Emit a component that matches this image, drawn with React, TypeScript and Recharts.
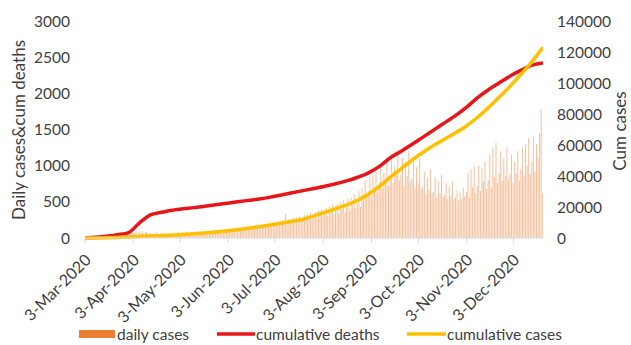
import React from 'react';
import { ComposedChart, Bar, Line, XAxis, YAxis, Legend } from 'recharts';

// Daily new cases, one value per day from 3-Mar-2020 (day 0) to 22-Dec-2020 (day 294)
const dailyCases = [
  0, 2, 1, 5, 3, 8, 6,
  10, 7, 15, 12, 20, 14, 18,
  25, 30, 22, 35, 40, 28, 38,
  45, 52, 40, 60, 55, 48, 65,
  70, 58, 80, 66, 75, 90, 62,
  85, 70, 95, 60, 78, 88, 55,
  72, 50, 65, 58, 80, 45, 60,
  55, 62, 48, 70, 52, 66, 58,
  60, 72, 55, 68, 78, 64, 70,
  75, 68, 82, 90, 70, 85, 78,
  80, 92, 76, 88, 95, 72, 90,
  85, 98, 80, 102, 90, 110, 95,
  100, 115, 92, 120, 105, 98, 125,
  110, 128, 105, 135, 118, 140, 122,
  130, 145, 120, 150, 138, 125, 155,
  140, 160, 132, 168, 150, 175, 145,
  158, 180, 150, 190, 165, 200, 172,
  185, 210, 170, 225, 195, 240, 205,
  215, 250, 190, 330, 230, 260, 210,
  240, 275, 220, 290, 255, 300, 235,
  265, 310, 245, 330, 280, 350, 270,
  300, 360, 280, 380, 320, 400, 310,
  340, 420, 300, 440, 360, 460, 330,
  380, 470, 340, 500, 400, 520, 360,
  420, 540, 380, 560, 450, 600, 410,
  480, 650, 430, 700, 520, 800, 560,
  650, 850, 560, 900, 700, 950, 620,
  760, 980, 680, 900, 820, 1050, 720,
  850, 1080, 760, 1000, 900, 1150, 800,
  880, 1100, 720, 1050, 850, 1200, 780,
  820, 1080, 700, 980, 760, 1100, 680,
  700, 920, 600, 840, 660, 940, 620,
  640, 840, 560, 780, 620, 870, 560,
  600, 760, 540, 700, 580, 780, 540,
  560, 660, 520, 640, 540, 700, 580,
  640, 900, 560, 950, 700, 980, 620,
  720, 1000, 650, 960, 780, 1050, 680,
  800, 1150, 700, 1250, 850, 1320, 760,
  900, 1200, 780, 1100, 860, 1250, 820,
  880, 1150, 760, 1050, 900, 1200, 800,
  950, 1250, 850, 1300, 1000, 1380, 880,
  1050, 1400, 920, 1300, 1100, 1450, 1780,
  620,
];

// Weekly readings of the cumulative series (day index from 3-Mar-2020)
const lineDays = [
  0, 7, 14, 21, 28, 35, 42, 49, 56, 63, 70, 77, 84, 91, 98, 105, 112, 119, 126, 133, 140, 147,
  154, 161, 168, 175, 182, 189, 196, 203, 210, 217, 224, 231, 238, 245, 252, 259, 266, 273, 280, 287, 294,
];
const cumulativeDeaths = [
  0, 10, 25, 45, 75, 210, 320, 355, 385, 405, 420, 440, 460, 480, 500, 520, 540, 565, 595, 625, 655, 685,
  715, 750, 790, 840, 900, 990, 1110, 1200, 1295, 1395, 1495, 1595, 1695, 1810, 1940, 2050, 2145, 2240, 2320, 2390, 2420,
];
const cumulativeCases = [
  0, 50, 200, 400, 700, 1000, 1300, 1550, 1850, 2250, 2750, 3250, 3850, 4550, 5350, 6250, 7250, 8350, 9550, 10800, 12100, 14300,
  16600, 18900, 21300, 24300, 28200, 33300, 39300, 44800, 50300, 55300, 59800, 63900, 67900, 72400, 77900, 84100, 91000, 98000, 105800, 113800, 123000,
];

const monthTickDays = [0, 31, 61, 92, 122, 153, 184, 214, 245, 275];
const monthTickLabels = [
  '3-Mar-2020', '3-Apr-2020', '3-May-2020', '3-Jun-2020', '3-Jul-2020',
  '3-Aug-2020', '3-Sep-2020', '3-Oct-2020', '3-Nov-2020', '3-Dec-2020',
];
const leftTicks = [0, 500, 1000, 1500, 2000, 2500, 3000];
const rightTicks = [0, 20000, 40000, 60000, 80000, 100000, 120000, 140000];

const seriesNames = {
  daily: 'daily cases',
  deaths: 'cumulative deaths',
  cases: 'cumulative cases',
};
const leftTitle = 'Daily cases&cum deaths';
const rightTitle = 'Cum cases';

const FONT = 'Lato, "Open Sans", sans-serif';
const TEXT = '#404040';
const BAR_FILL = '#f5bf9a';
const BAR_SWATCH = '#ED7D31';
const RED = '#e8161b';
const GOLD = '#FFC000';
const AXIS = '#d9d9d9';

const barData = dailyCases.map((v, day) => ({ day, daily: v }));
const deathsData = lineDays.map((day, i) => ({ day, deaths: cumulativeDeaths[i] }));
const casesData = lineDays.map((day, i) => ({ day, cases: cumulativeCases[i] }));

const DateTick = (props: any) => {
  const { x, payload } = props;
  const idx = monthTickDays.indexOf(payload.value);
  const ax = x + 7;
  const ay = 261;
  return (
    <text
      x={ax}
      y={ay}
      transform={`rotate(-45 ${ax} ${ay})`}
      textAnchor="end"
      fontSize={16}
      fontFamily={FONT}
      fill={TEXT}
    >
      {monthTickLabels[idx]}
    </text>
  );
};

const LegendRow = () => (
  <svg width={631} height={22} style={{ display: 'block' }}>
    <rect x={79} y={7} width={36} height={8} fill={BAR_SWATCH} />
    <text x={117} y={11} dominantBaseline="central" fontSize={15.5} fontFamily={FONT} fill={TEXT}>
      {seriesNames.daily}
    </text>
    <line x1={217} x2={255} y1={11} y2={11} stroke={RED} strokeWidth={3.5} />
    <text x={256} y={11} dominantBaseline="central" fontSize={15.5} fontFamily={FONT} fill={TEXT}>
      {seriesNames.deaths}
    </text>
    <line x1={407} x2={446} y1={11} y2={11} stroke={GOLD} strokeWidth={3.5} />
    <text x={447} y={11} dominantBaseline="central" fontSize={15.5} fontFamily={FONT} fill={TEXT}>
      {seriesNames.cases}
    </text>
  </svg>
);

const LeftTitle = () => (
  <text
    x={25}
    y={130}
    transform="rotate(-90 25 130)"
    textAnchor="middle"
    fontSize={17}
    fontFamily={FONT}
    fill={TEXT}
  >
    {leftTitle}
  </text>
);

const RightTitle = () => (
  <text
    x={626}
    y={131}
    transform="rotate(-90 626 131)"
    textAnchor="middle"
    fontSize={17}
    fontFamily={FONT}
    fill={TEXT}
  >
    {rightTitle}
  </text>
);

export default function App() {
  return (
    <div style={{ position: 'absolute', left: 0, top: 0, width: 631, height: 345, background: '#fff' }}>
      <ComposedChart
        width={631}
        height={345}
        data={barData}
        margin={{ top: 21, right: 0, bottom: 0, left: 0 }}
      >
        <XAxis
          dataKey="day"
          type="number"
          domain={[0, 294]}
          allowDataOverflow
          ticks={monthTickDays}
          interval={0}
          height={85}
          tickSize={5}
          tickLine={{ stroke: AXIS }}
          axisLine={{ stroke: AXIS }}
          tick={<DateTick />}
        />
        <YAxis
          yAxisId="left"
          orientation="left"
          width={85}
          domain={[0, 3000]}
          ticks={leftTicks}
          axisLine={false}
          tickLine={false}
          tickSize={0}
          tickMargin={15}
          tick={{ fontSize: 15.5, fontFamily: FONT, fill: TEXT }}
          label={() => <LeftTitle />}
        />
        <YAxis
          yAxisId="right"
          orientation="right"
          width={88}
          domain={[0, 140000]}
          ticks={rightTicks}
          axisLine={false}
          tickLine={false}
          tickSize={0}
          tickMargin={14}
          tick={{ fontSize: 15.5, fontFamily: FONT, fill: TEXT, textAnchor: 'start' }}
          label={() => <RightTitle />}
        />
        <Bar
          yAxisId="left"
          dataKey="daily"
          name={seriesNames.daily}
          fill={BAR_FILL}
          barSize={1}
          isAnimationActive={false}
        />
        <Line
          yAxisId="left"
          data={deathsData}
          dataKey="deaths"
          name={seriesNames.deaths}
          type="monotone"
          stroke={RED}
          strokeWidth={3.5}
          dot={false}
          activeDot={false}
          isAnimationActive={false}
        />
        <Line
          yAxisId="right"
          data={casesData}
          dataKey="cases"
          name={seriesNames.cases}
          type="monotone"
          stroke={GOLD}
          strokeWidth={3.5}
          dot={false}
          activeDot={false}
          isAnimationActive={false}
        />
        <Legend
          verticalAlign="bottom"
          height={22}
          content={() => <LegendRow />}
          wrapperStyle={{ left: 0, width: 631, height: 22 }}
        />
      </ComposedChart>
    </div>
  );
}
